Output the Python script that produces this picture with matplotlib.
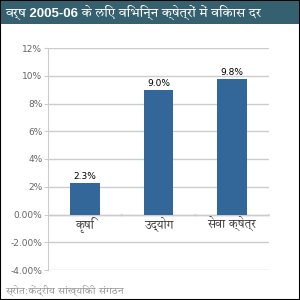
import matplotlib
matplotlib.use("Agg")
import matplotlib.pyplot as plt
from matplotlib import font_manager
from matplotlib.patches import Rectangle

# ---- data ----
categories = ["कृषि", "उद्योग", "सेवा क्षेत्र"]
growth = [2.3, 9.0, 9.8]
value_labels = ["2.3%", "9.0%", "9.8%"]
yticks = [-4, -2, 0, 2, 4, 6, 8, 10, 12]
ytick_labels = ["-4.00%", "-2.00%", "0.00%", "2%", "4%", "6%", "8%", "10%", "12%"]
title = "वर्ष 2005-06 के लिए विभिन्न क्षेत्रों में विकास दर"
source = "स्रोत:केंद्रीय सांख्यिकी संगठन"

# ---- find fonts with Devanagari glyphs, prefer proportional sans ----
cands = []
try:
    from fontTools.ttLib import TTFont
    for fe in font_manager.fontManager.ttflist:
        try:
            f = TTFont(fe.fname, fontNumber=0, lazy=True)
            cmap = f.getBestCmap()
            if cmap and 0x0915 in cmap:
                cands.append(fe.name)
        except Exception:
            pass
except Exception:
    pass

def score(n):
    s = 0
    if "Mono" in n:
        s += 10
    if "Serif" in n:
        s += 3
    if "Devanagari" in n:
        s -= 2
    return s

cands = sorted(set(cands), key=score)
fams = ["DejaVu Sans"] + cands[:1]
title_fams = ["Liberation Sans"] + cands[:1] + ["DejaVu Sans"]

W = H = 300
fig = plt.figure(figsize=(3, 3), dpi=100)

def fx(px):
    return px / W

def fy(py):
    return 1 - py / H

# border
fig.patches.append(Rectangle((0, 0), 1, 1, transform=fig.transFigure,
                             facecolor="white", edgecolor="black", lw=1.5, zorder=-10))
# title bar
fig.patches.append(Rectangle((fx(1), fy(23.5)), fx(298), 22.5 / H, transform=fig.transFigure,
                             facecolor="#35606F", edgecolor="none", zorder=-5))
t = fig.text(fx(5), fy(12), title, color="white", fontsize=9.5, fontweight="bold",
             va="center", ha="left", family=title_fams)
renderer = fig.canvas.get_renderer()
w = t.get_window_extent(renderer).width
if w > 285:
    t.set_fontsize(9.5 * 285 / w)

ax = fig.add_axes([fx(48), fy(270), fx(269 - 48), (270 - 48) / H])
grid_c = "#CCCCCC"
x = list(range(len(categories)))
bars = ax.bar(x, growth, width=0.4, color="#336699", zorder=3)
for xi, v, lab in zip(x, growth, value_labels):
    ax.annotate(lab, (xi, v), xytext=(0, 1), textcoords="offset points",
                ha="center", va="bottom", fontsize=6.5, color="black")

ax.set_xlim(-0.5, len(categories) - 0.5)
ax.set_ylim(min(yticks), max(yticks))
ax.set_yticks(yticks)
ax.set_yticklabels(ytick_labels)
ax.yaxis.grid(True, color=grid_c, lw=1, zorder=0)
ax.set_axisbelow(True)
for s in ["top", "right", "bottom"]:
    ax.spines[s].set_visible(False)
ax.spines["left"].set_color(grid_c)
ax.tick_params(axis="y", length=3, color=grid_c, labelcolor="#666666", labelsize=6.5, pad=1)
ax.set_xticks([])
# zero axis line with category boundary ticks
ax.axhline(0, color=grid_c, lw=1, zorder=2)
for b in [0.5, 1.5, 2.5]:
    ax.annotate("", xy=(b, 0), xytext=(0, -3), textcoords="offset points",
                arrowprops=dict(arrowstyle="-", color=grid_c, lw=1))
for xi, c in zip(x, categories):
    ax.annotate(c, (xi, 0), xytext=(0, -2), textcoords="offset points",
                ha="center", va="top", fontsize=8.5, color="#444444", family=fams)

fig.text(fx(5), fy(290), source, color="#999999", fontsize=7.5, va="center", ha="left", family=fams)

fig.savefig("out.png", dpi=100)
